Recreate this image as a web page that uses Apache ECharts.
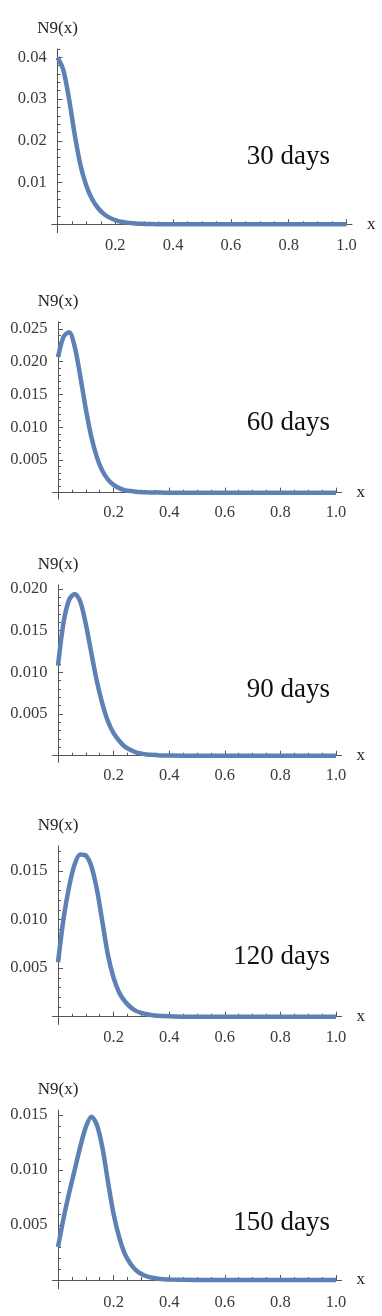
<!DOCTYPE html>
<html>
<head>
<meta charset="utf-8">
<script src="https://cdn.jsdelivr.net/npm/echarts@6/dist/echarts.min.js"></script>
<style>
  html, body { margin: 0; padding: 0; background: #fff; }
  #main { width: 382px; height: 1316px; }
</style>
</head>
<body>
<div id="main"></div>
<script>
var xs = [0, 0.02, 0.04, 0.06, 0.08, 0.10, 0.12, 0.14, 0.16, 0.18, 0.20, 0.22, 0.24, 0.26,
  0.28, 0.30, 0.32, 0.34, 0.36, 0.38, 0.40, 0.5, 0.6, 0.7, 0.8, 0.9, 1.0];

// N9(x) values, one list per panel
var n30 = [0.0400, 0.0370, 0.0300, 0.0213, 0.0140, 0.0092, 0.0060, 0.0039, 0.0025, 0.0016,
  0.0010, 0.0006, 0.0004, 0.00025, 0.00015, 0.0001, 0.00006, 0.00004, 0.00002, 0.00001,
  0, 0, 0, 0, 0, 0, 0];
var n60 = [0.0207, 0.0238, 0.0245, 0.0223, 0.0178, 0.0128, 0.0085, 0.0054, 0.0033, 0.0020,
  0.0012, 0.0007, 0.0004, 0.00025, 0.00015, 0.00008, 0.00005, 0.00003, 0.00002, 0.00001,
  0, 0, 0, 0, 0, 0, 0];
var n90 = [0.0108, 0.0160, 0.0187, 0.0194, 0.0185, 0.0158, 0.0123, 0.0089, 0.0062, 0.0041,
  0.0027, 0.0018, 0.0011, 0.0007, 0.0004, 0.00025, 0.00015, 0.0001, 0.00006, 0.00003,
  0.00002, 0, 0, 0, 0, 0, 0];
var n120 = [0.0056, 0.0101, 0.0134, 0.0157, 0.0167, 0.0166, 0.0155, 0.0131, 0.0097, 0.0063,
  0.0040, 0.0025, 0.0016, 0.0010, 0.0006, 0.0004, 0.00025, 0.00015, 0.0001, 0.00006,
  0.00004, 0, 0, 0, 0, 0, 0];
var n150 = [0.0030, 0.0056, 0.0079, 0.0100, 0.0121, 0.0139, 0.01485, 0.0141, 0.0120, 0.0089,
  0.0060, 0.0039, 0.0024, 0.0015, 0.0009, 0.00055, 0.00033, 0.0002, 0.00012, 0.00007,
  0.00004, 0.00001, 0, 0, 0, 0, 0];

var days = ['30 days', '60 days', '90 days', '120 days', '150 days'];

// tick labels
var xTicks = [0.2, 0.4, 0.6, 0.8, 1.0];
var yTicks30 = [0.01, 0.02, 0.03, 0.04];
var yTicks60 = [0.005, 0.010, 0.015, 0.020, 0.025];
var yTicks90 = [0.005, 0.010, 0.015, 0.020];
var yTicks120 = [0.005, 0.010, 0.015];
var yTicks150 = [0.005, 0.010, 0.015];

var FONT = '"Liberation Serif", "Times New Roman", serif';
var AXIS = '#555';
var CURVE = '#5E81B5';

// where each panel sits on the page (px of x=0 / y=0, px per unit)
var panels = [
  { vals: n30, yTicks: yTicks30, yStep: 0.002, dec: 2, x0: 57.5, xUnit: 289, xMax: 1.019,
    y0: 224.3, yUnit: 4175, yMin: -0.002, yMax: 0.042, labelY: 157 },
  { vals: n60, yTicks: yTicks60, yStep: 0.001, dec: 3, x0: 58, xUnit: 278, xMax: 1.02,
    y0: 492.7, yUnit: 6550, yMin: -0.001, yMax: 0.0261, labelY: 423 },
  { vals: n90, yTicks: yTicks90, yStep: 0.001, dec: 3, x0: 58, xUnit: 278, xMax: 1.02,
    y0: 755.7, yUnit: 8333, yMin: -0.0008, yMax: 0.0205, labelY: 690 },
  { vals: n120, yTicks: yTicks120, yStep: 0.001, dec: 3, x0: 58, xUnit: 278, xMax: 1.02,
    y0: 1016.7, yUnit: 9710, yMin: -0.0008, yMax: 0.0176, labelY: 957 },
  { vals: n150, yTicks: yTicks150, yStep: 0.001, dec: 3, x0: 58, xUnit: 278, xMax: 1.02,
    y0: 1280, yUnit: 11000, yMin: -0.0008, yMax: 0.01545, labelY: 1223 }
];
var xMin = -0.02;

function minorTicks(step, max, majors) {
  var out = [];
  for (var i = 1; i * step <= max + 1e-9; i++) {
    var v = Math.round(i * step * 1e6) / 1e6;
    var isMajor = majors.some(function (m) { return Math.abs(m - v) < 1e-9; });
    if (!isMajor) out.push(v);
  }
  return out;
}

var grids = [], xAxes = [], yAxes = [], series = [], graphics = [];

panels.forEach(function (p, i) {
  grids.push({
    left: p.x0 + xMin * p.xUnit,
    width: (p.xMax - xMin) * p.xUnit,
    top: p.y0 - p.yMax * p.yUnit,
    height: (p.yMax - p.yMin) * p.yUnit,
    containLabel: false
  });

  // main x axis: line, long ticks, labels
  xAxes.push({
    gridIndex: i, type: 'value', min: xMin, max: p.xMax, position: 'bottom',
    name: 'x', nameLocation: 'end', nameGap: 15,
    nameTextStyle: { fontFamily: FONT, fontSize: 17, color: '#222' },
    axisLine: { onZero: true, lineStyle: { color: AXIS, width: 1 } },
    axisTick: { inside: true, length: 5, customValues: xTicks, lineStyle: { color: AXIS } },
    axisLabel: {
      customValues: xTicks, margin: 5, fontFamily: FONT, fontSize: 16.5, color: '#3a3a3a',
      formatter: function (v) { return v.toFixed(1); }
    },
    splitLine: { show: false }
  });
  // short ticks only
  xAxes.push({
    gridIndex: i, type: 'value', min: xMin, max: p.xMax, position: 'bottom',
    axisLine: { show: false, onZero: true },
    axisTick: { inside: true, length: 3, customValues: minorTicks(0.05, 1.0, xTicks), lineStyle: { color: AXIS } },
    axisLabel: { show: false },
    splitLine: { show: false }
  });

  yAxes.push({
    gridIndex: i, type: 'value', min: p.yMin, max: p.yMax, position: 'left',
    name: 'N9(x)', nameLocation: 'end', nameGap: 12,
    nameTextStyle: { fontFamily: FONT, fontSize: 17, color: '#222' },
    axisLine: { onZero: true, lineStyle: { color: AXIS, width: 1 } },
    axisTick: { inside: true, length: 5, customValues: p.yTicks, lineStyle: { color: AXIS } },
    axisLabel: {
      customValues: p.yTicks, margin: 5, fontFamily: FONT, fontSize: 16.5, color: '#3a3a3a',
      formatter: function (v) { return v.toFixed(p.dec); }
    },
    splitLine: { show: false }
  });
  yAxes.push({
    gridIndex: i, type: 'value', min: p.yMin, max: p.yMax, position: 'left',
    axisLine: { show: false, onZero: true },
    axisTick: { inside: true, length: 3, customValues: minorTicks(p.yStep, p.yMax, p.yTicks), lineStyle: { color: AXIS } },
    axisLabel: { show: false },
    splitLine: { show: false }
  });

  series.push({
    type: 'line',
    xAxisIndex: 2 * i,
    yAxisIndex: 2 * i,
    data: xs.map(function (x, j) { return [x, p.vals[j]]; }),
    showSymbol: false,
    smooth: 0.3,
    clip: false,
    silent: true,
    lineStyle: { color: CURVE, width: 4.5 }
  });

  graphics.push({
    type: 'text',
    x: 330,
    y: p.labelY,
    style: {
      text: days[i],
      font: '27px ' + FONT,
      fill: '#111',
      align: 'right',
      verticalAlign: 'middle',
      textAlign: 'right',
      textVerticalAlign: 'middle'
    }
  });
});

var chart = echarts.init(document.getElementById('main'), null, { renderer: 'canvas' });
chart.setOption({
  animation: false,
  backgroundColor: '#fff',
  grid: grids,
  xAxis: xAxes,
  yAxis: yAxes,
  series: series,
  graphic: graphics
});
</script>
</body>
</html>
